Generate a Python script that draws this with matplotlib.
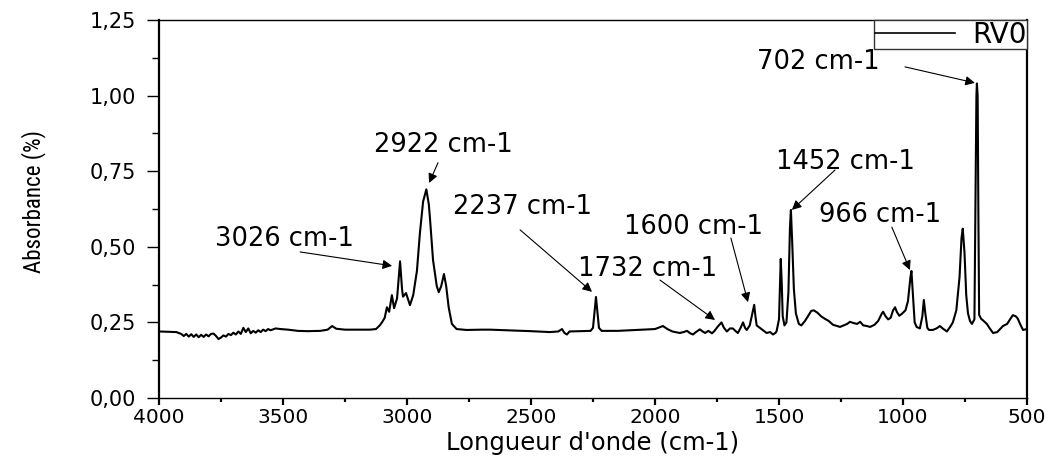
import matplotlib
matplotlib.use("Agg")
import matplotlib.pyplot as plt
from matplotlib import font_manager, transforms
import numpy as np

# ---------------- data ----------------
wavenumber = [
    4000, 3960, 3930, 3911, 3900, 3890, 3880, 3870, 3860, 3850, 3840, 3830, 3820,
    3810, 3800, 3790, 3780, 3770, 3760, 3750, 3740, 3730, 3720, 3710, 3700, 3690,
    3680, 3670, 3660, 3650, 3640, 3630, 3620, 3610, 3600, 3590, 3580, 3570, 3560,
    3550, 3530, 3510, 3480, 3440, 3400, 3350, 3320, 3302, 3285, 3250, 3200, 3150,
    3125, 3110, 3101, 3090, 3081, 3072, 3061, 3052, 3040, 3028, 3020, 3016, 3004,
    2995, 2988, 2975, 2960, 2948, 2935, 2922, 2912, 2907, 2895, 2880, 2872, 2862,
    2851, 2842, 2832, 2819, 2800, 2760, 2700, 2665, 2600, 2500, 2424, 2390, 2375,
    2365, 2355, 2345, 2300, 2260, 2250, 2243, 2238, 2233, 2226, 2215, 2150, 2100,
    2050, 2000, 1968, 1950, 1930, 1900, 1885, 1871, 1858, 1847, 1835, 1819, 1808,
    1798, 1785, 1770, 1760, 1748, 1732, 1722, 1710, 1698, 1686, 1676, 1666, 1656,
    1645, 1637, 1630, 1618, 1605, 1600, 1595, 1590, 1577, 1565, 1550, 1536, 1524,
    1515, 1510, 1500, 1496, 1493, 1489, 1485, 1478, 1470, 1462, 1456, 1452, 1447,
    1440, 1432, 1420, 1410, 1395, 1380, 1370, 1360, 1345, 1330, 1315, 1300, 1282,
    1265, 1254, 1240, 1225, 1214, 1200, 1185, 1173, 1160, 1145, 1133, 1115, 1100,
    1085, 1080, 1070, 1060, 1050, 1040, 1032, 1025, 1015, 1005, 990, 980, 970,
    966, 960, 953, 945, 932, 922, 916, 910, 902, 895, 880, 865, 851, 840, 823,
    810, 799, 785, 772, 764, 759, 752, 745, 738, 730, 722, 712, 707, 704, 702,
    699, 696, 693, 685, 675, 662, 650, 637, 620, 597, 580, 570, 557, 545, 537,
    528, 516, 500,
]
absorbance = [
    0.220, 0.219, 0.218, 0.212, 0.205, 0.212, 0.203, 0.211, 0.202, 0.210, 0.201, 0.209, 0.202,
    0.210, 0.204, 0.212, 0.213, 0.205, 0.195, 0.200, 0.207, 0.203, 0.212, 0.208, 0.216, 0.210,
    0.220, 0.212, 0.232, 0.218, 0.230, 0.214, 0.222, 0.216, 0.224, 0.218, 0.226, 0.221, 0.228,
    0.224, 0.230, 0.228, 0.226, 0.222, 0.221, 0.222, 0.226, 0.238, 0.229, 0.226, 0.226, 0.226,
    0.228, 0.240, 0.250, 0.265, 0.300, 0.285, 0.340, 0.297, 0.330, 0.452, 0.360, 0.335, 0.347,
    0.325, 0.307, 0.340, 0.420, 0.545, 0.650, 0.690, 0.640, 0.590, 0.456, 0.370, 0.350, 0.370,
    0.410, 0.370, 0.300, 0.245, 0.228, 0.225, 0.226, 0.226, 0.224, 0.221, 0.218, 0.220, 0.228,
    0.215, 0.210, 0.220, 0.221, 0.222, 0.232, 0.290, 0.334, 0.290, 0.232, 0.222, 0.222, 0.224,
    0.226, 0.228, 0.238, 0.228, 0.220, 0.215, 0.218, 0.222, 0.214, 0.210, 0.218, 0.227, 0.220,
    0.215, 0.222, 0.214, 0.222, 0.235, 0.250, 0.232, 0.220, 0.230, 0.230, 0.222, 0.215, 0.230,
    0.250, 0.232, 0.225, 0.240, 0.290, 0.308, 0.270, 0.240, 0.232, 0.225, 0.215, 0.218, 0.210,
    0.215, 0.220, 0.260, 0.380, 0.460, 0.380, 0.270, 0.240, 0.250, 0.350, 0.560, 0.622, 0.520,
    0.360, 0.280, 0.245, 0.240, 0.255, 0.275, 0.288, 0.290, 0.282, 0.270, 0.262, 0.255, 0.242,
    0.238, 0.235, 0.240, 0.245, 0.252, 0.248, 0.245, 0.252, 0.240, 0.238, 0.235, 0.242, 0.255,
    0.280, 0.285, 0.270, 0.260, 0.265, 0.290, 0.300, 0.285, 0.272, 0.278, 0.290, 0.320, 0.400,
    0.420, 0.340, 0.250, 0.235, 0.230, 0.270, 0.324, 0.280, 0.232, 0.225, 0.225, 0.230, 0.238, 0.230, 0.220,
    0.235, 0.250, 0.290, 0.400, 0.530, 0.560, 0.480, 0.340, 0.280, 0.255, 0.245, 0.260, 0.700, 1.000, 1.040,
    1.000, 0.600, 0.275, 0.262, 0.255, 0.245, 0.230, 0.215, 0.218, 0.238, 0.245, 0.258, 0.274, 0.270, 0.262,
    0.245, 0.225, 0.228,
]
series_name = "RV0"

# annotation labels: text, text position, arrow tail, arrow head (data units)
ann_labels = ["3026 cm-1", "2922 cm-1", "2237 cm-1", "1732 cm-1",
              "1600 cm-1", "1452 cm-1", "966 cm-1", "702 cm-1"]
ann_text_x = [3494, 2854, 2536, 2028, 1843, 1234, 1093, 1340]
ann_text_y = [0.532, 0.845, 0.638, 0.433, 0.572, 0.787, 0.612, 1.118]
ann_tail_x = [3431, 2875, 2544, 1980, 1694, 1274, 1045, 992]
ann_tail_y = [0.483, 0.778, 0.556, 0.390, 0.529, 0.754, 0.565, 1.095]
ann_head_x = [3060, 2911, 2254, 1758, 1625, 1448, 972, 710]
ann_head_y = [0.437, 0.711, 0.351, 0.258, 0.317, 0.622, 0.423, 1.042]

x_ticks = [4000, 3500, 3000, 2500, 2000, 1500, 1000, 500]
y_ticks = [0.00, 0.25, 0.50, 0.75, 1.00, 1.25]
y_tick_labels = ["0,00", "0,25", "0,50", "0,75", "1,00", "1,25"]

x_label = "Longueur d'onde (cm-1)"
y_label = "Absorbance (%)"

# ---------------- style ----------------
plt.rcParams['font.family'] = ['DejaVu Sans']

# look for a condensed/narrow face for the y label
ylab_prop = None
prefs = ['Liberation Sans Narrow', 'DejaVu Sans Condensed', 'Roboto Condensed',
         'Open Sans Condensed', 'Noto Sans Condensed']
entries = font_manager.fontManager.ttflist
for pref in prefs:
    for f in entries:
        if f.name == pref and f.style == 'normal' and f.weight in (400, 'normal', 'regular'):
            ylab_prop = font_manager.FontProperties(fname=f.fname)
            break
    if ylab_prop is not None:
        break
if ylab_prop is None:
    for f in entries:
        if (str(f.stretch) in ('condensed', 'semi-condensed', 'extra-condensed')
                and f.style == 'normal' and f.weight in (400, 'normal', 'regular')
                and ('Sans' in f.name or 'Roboto' in f.name)):
            ylab_prop = font_manager.FontProperties(fname=f.fname)
            break
if ylab_prop is None:
    ylab_prop = font_manager.FontProperties(family='Liberation Sans')

fig = plt.figure(figsize=(10.52, 4.59), dpi=100)
ax = fig.add_axes([159 / 1052, 1 - 398 / 459, (1027 - 159) / 1052, (398 - 20) / 459])

ax.plot(wavenumber, absorbance, color='black', lw=1.5, label=series_name,
        solid_joinstyle='round')

ax.set_xlim(4000, 500)
ax.set_ylim(0, 1.25)
ax.set_xticks(x_ticks)
ax.set_xticks(np.arange(500, 4001, 250), minor=True)
ax.set_yticks(y_ticks)
ax.set_yticklabels(y_tick_labels)
ax.set_yticks(np.arange(0, 1.26, 0.125), minor=True)

ax.tick_params(axis='y', which='major', direction='out', length=8.6, width=1.0,
               labelsize=15, pad=8)
ax.tick_params(axis='y', which='minor', direction='out', length=5, width=1.0)
ax.tick_params(axis='x', which='major', direction='out', length=5, width=1.6,
               labelsize=14.5, pad=2)
ax.tick_params(axis='x', which='minor', direction='out', length=3, width=1.6)

for side in ['left', 'right']:
    ax.spines[side].set_linewidth(1.6)
for side in ['top', 'bottom']:
    ax.spines[side].set_linewidth(1.0)

ax.set_xlabel(x_label, fontsize=17.5, labelpad=3)
ylab = ax.set_ylabel(y_label, fontproperties=ylab_prop)
ylab.set_fontsize(17)
ax.yaxis.set_label_coords((46 - 159) / 868, (398 - 202) / 378)

# annotations
ann_fs = 18.5
cap = 0.729 * ann_fs
off = transforms.offset_copy(ax.transData, fig=fig, y=-cap / 2, units='points')
for lab, tx, ty, ax0, ay0, hx, hy in zip(ann_labels, ann_text_x, ann_text_y,
                                         ann_tail_x, ann_tail_y, ann_head_x, ann_head_y):
    ax.text(tx, ty, lab, transform=off, ha='center', va='baseline', fontsize=ann_fs)
    ax.annotate('', xy=(hx, hy), xytext=(ax0, ay0),
                arrowprops=dict(arrowstyle='-|>', lw=0.8, color='black',
                                mutation_scale=14, shrinkA=0, shrinkB=0))

leg = ax.legend(loc='upper right', bbox_to_anchor=(1, 1), borderaxespad=0,
                fontsize=20, frameon=True, fancybox=False, handlelength=2.9,
                handletextpad=0.6, borderpad=0.02, framealpha=1)
leg.get_frame().set_edgecolor('#333333')
leg.get_frame().set_linewidth(1.0)
for h in leg.get_lines():
    h.set_linewidth(1.2)

# fit the y label length to the reference (about 143 px)
fig.canvas.draw()
r = fig.canvas.get_renderer()
bb = ylab.get_window_extent(r)
if bb.height > 0:
    ylab.set_fontsize(17 * 143 / bb.height)

fig.savefig('out.png', dpi=100)
